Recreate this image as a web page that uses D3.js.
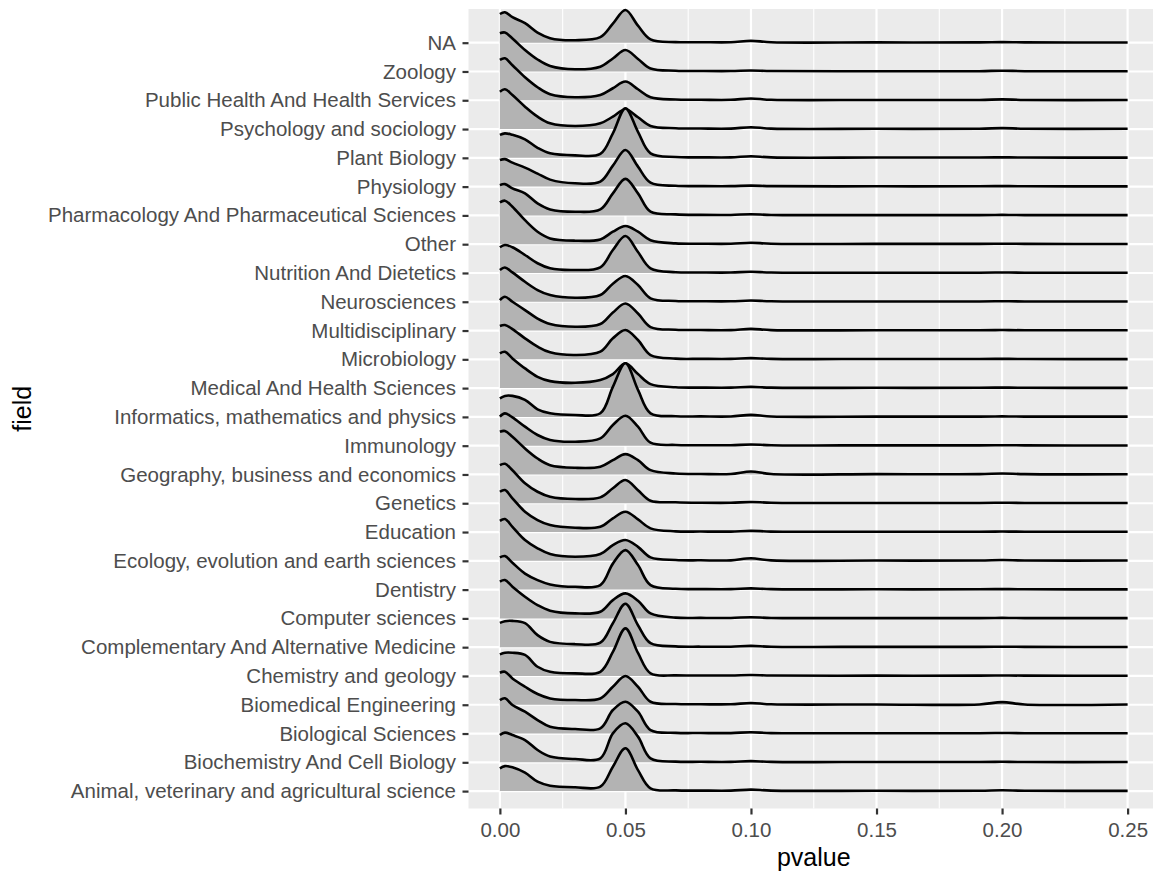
<!DOCTYPE html>
<html>
<head>
<meta charset="utf-8">
<script src="https://cdn.jsdelivr.net/npm/d3@7"></script>
<style>
  body { margin: 0; background: #fff; }
  text { font-family: 'Liberation Sans', Arial, Helvetica, sans-serif; }
</style>
</head>
<body>
<svg width="1153" height="876"></svg>
<script>
// categories, bottom to top (factor order)
let fields = [
  'Animal, veterinary and agricultural science',
  'Biochemistry And Cell Biology',
  'Biological Sciences',
  'Biomedical Engineering',
  'Chemistry and geology',
  'Complementary And Alternative Medicine',
  'Computer sciences',
  'Dentistry',
  'Ecology, evolution and earth sciences',
  'Education',
  'Genetics',
  'Geography, business and economics',
  'Immunology',
  'Informatics, mathematics and physics',
  'Medical And Health Sciences',
  'Microbiology',
  'Multidisciplinary',
  'Neurosciences',
  'Nutrition And Dietetics',
  'Other',
  'Pharmacology And Pharmaceutical Sciences',
  'Physiology',
  'Plant Biology',
  'Psychology and sociology',
  'Public Health And Health Services',
  'Zoology',
  'NA'
]

// estimated density of each field at fixed p-values (same order as fields)
let d000 = [22.8, 27.3, 33.5, 32, 21.6, 24.3, 36.7, 32.2, 40, 40.3, 38.2, 42.7, 29, 18.6, 34.7, 33.3, 30.5, 31.7, 25.7, 41.8, 30.3, 26.6, 22.9, 37.4, 40.3, 38.2, 28.7]
let d002 = [25, 29.7, 35.2, 33, 23.2, 26, 38.3, 33.5, 41.8, 42, 39.5, 43.5, 32.3, 21, 36.3, 34.3, 33.8, 34.3, 28, 43.5, 31.3, 27.5, 24.5, 39.8, 42, 39, 30.5]
let d005 = [23.8, 27.3, 28.5, 26.3, 23.2, 26.3, 31.7, 26.8, 34, 33.7, 33, 37.7, 28.3, 21, 29.7, 30.3, 28.8, 29.4, 25.7, 37.5, 27, 24, 23, 34, 35, 33, 25.5]
let d010 = [18.4, 22.3, 21.8, 18, 21, 24, 21.7, 16, 20.8, 20.3, 20, 26, 19, 17, 19.7, 21, 20.5, 20, 18, 24, 22, 19, 18.5, 22.4, 23, 21.5, 19.5]
let d015 = [9.4, 12.3, 13.5, 10.7, 9.2, 12, 13.3, 9.5, 12.5, 12, 11.5, 16, 10.7, 7.6, 11.3, 12.7, 12, 11.7, 9.7, 12.5, 12, 13, 10, 12.4, 13, 12, 10]
let d020 = [5.4, 5.7, 6.8, 6.3, 4.2, 5.3, 7.7, 5.2, 6.8, 7, 6.5, 9.3, 5.7, 3.6, 7, 7, 6.5, 6.7, 4.7, 5.8, 6, 7, 4.5, 5.8, 6, 5.5, 4.5]
let d030 = [3.8, 3.3, 4.5, 4.7, 2.6, 3, 5, 2.8, 4.1, 4.3, 4.2, 6.7, 4, 1.9, 5.3, 4.3, 3.8, 4, 3, 3.5, 3.7, 3.3, 2.5, 3.1, 3, 2.2, 2.5]
let d040 = [4.4, 4, 5.2, 6.3, 4.2, 4.5, 6.7, 4.5, 6.8, 5.3, 5.9, 7.7, 7.3, 3.6, 8, 7.7, 6.5, 6.7, 5.7, 4.8, 6, 5, 3.9, 5.8, 5.3, 4.8, 5.5]
let d045 = [24.4, 29, 23.5, 18, 24, 24, 18.3, 26, 15.8, 13.7, 15, 14.3, 20.7, 30, 14, 21, 18, 18, 23, 12.5, 22, 21, 24.5, 12.4, 12, 13, 19]
let d050 = [42.8, 39, 31.8, 28.7, 47.6, 43.5, 25, 39.5, 20.8, 20.3, 23.2, 20.3, 30, 53.6, 24.8, 29.3, 27, 25.7, 37, 18.2, 36.5, 36.6, 49.5, 19.8, 18.7, 21.5, 32.7]
let d055 = [21, 25.7, 21.8, 18, 23, 22, 17.7, 24.5, 14, 12.7, 13, 14.3, 19, 27, 14, 19.3, 17, 16.7, 21, 12.5, 22, 20, 26, 11.8, 11, 12.5, 17]
let d060 = [2.8, 4, 3.5, 3, 2.6, 4, 5, 4.5, 3.5, 3.7, 2.5, 4.3, 3, 3.6, 4, 4.3, 3.5, 3.4, 4.7, 4, 3.7, 4, 4.5, 3.1, 3, 3, 3.3]
let d070 = [0.7, 0.7, 0.7, 0.7, 0.6, 0.8, 0.8, 0.8, 0.8, 0.7, 1, 1, 0.7, 0.7, 0.8, 0.7, 0.8, 0.8, 0.8, 0.8, 1, 0.8, 0.8, 0.8, 0.7, 0.8, 0.6]
let d100 = [1.5, 1.2, 1.3, 1.8, 1.0, 1.3, 1.2, 1.2, 2.5, 1.2, 1.3, 3.0, 1.2, 2.0, 1.2, 1.2, 1.7, 1.2, 1.2, 1.5, 1.2, 1.0, 1.6, 1.8, 1.8, 1.0, 2.0]
let d200 = [0.8, 0.5, 0.5, 2.6, 0.5, 0.5, 0.5, 0.5, 0.8, 0.5, 0.5, 1.0, 0.5, 0.5, 0.5, 0.5, 0.5, 0.5, 0.5, 0.5, 0.5, 0.5, 0.5, 0.9, 0.9, 0.8, 0.6]

let headP = [0, 0.002, 0.005, 0.01, 0.015, 0.02, 0.03, 0.04, 0.045, 0.05, 0.055, 0.06, 0.07]
let headD = [d000, d002, d005, d010, d015, d020, d030, d040, d045, d050, d055, d060, d070]

// flat tail shared by all fields
let tailP = [0.08, 0.092, 0.108, 0.15, 0.191, 0.209, 0.25]
let tailD = [0.5, 0.45, 0.45, 0.3, 0.3, 0.3, 0.25]

let xTicks = [0, 0.05, 0.1, 0.15, 0.2, 0.25]
let xMinor = [0.025, 0.075, 0.125, 0.175, 0.225]

let width = 1153
let height = 876
let panel = { left: 468.5, right: 1159, top: 9, bottom: 808.5 }

let svg = d3.select('svg')

let xScale = d3.scaleLinear()
  .domain([-0.0125, 0.2625])
  .range([panel.left, panel.right])

let yScale = d3.scalePoint()
  .domain(fields)
  .range([791.1, 42.7])

let heightScale = d3.scaleLinear()
  .domain([0, 50])
  .range([0, 50])

// panel background + grid
svg.append('rect')
  .attr('x', panel.left)
  .attr('y', panel.top)
  .attr('width', panel.right - panel.left)
  .attr('height', panel.bottom - panel.top)
  .attr('fill', '#EBEBEB')

svg.selectAll('.minor')
  .data(xMinor)
  .enter().append('line')
  .attr('x1', d => xScale(d)).attr('x2', d => xScale(d))
  .attr('y1', panel.top).attr('y2', panel.bottom)
  .attr('stroke', '#fff')
  .attr('stroke-width', 1.1)

svg.selectAll('.vmajor')
  .data(xTicks)
  .enter().append('line')
  .attr('x1', d => xScale(d)).attr('x2', d => xScale(d))
  .attr('y1', panel.top).attr('y2', panel.bottom)
  .attr('stroke', '#fff')
  .attr('stroke-width', 2.2)

svg.selectAll('.hmajor')
  .data(fields)
  .enter().append('line')
  .attr('x1', panel.left).attr('x2', panel.right)
  .attr('y1', d => yScale(d)).attr('y2', d => yScale(d))
  .attr('stroke', '#fff')
  .attr('stroke-width', 2.2)

// ridges, top row first so lower ridges overlay
let ridges = fields.map((f, j) => {
  let pts = headP.map((p, k) => [p, headD[k][j]])
  pts.push([tailP[0], tailD[0]], [tailP[1], tailD[1]])
  pts.push([0.1, d100[j]])
  pts.push([tailP[2], tailD[2]], [tailP[3], tailD[3]], [tailP[4], tailD[4]])
  pts.push([0.2, d200[j]])
  pts.push([tailP[5], tailD[5]], [tailP[6], tailD[6]])
  return { field: f, pts: pts }
}).reverse()

let curve = d3.curveCatmullRom.alpha(0.5)

ridges.forEach(r => {
  let base = yScale(r.field)
  let area = d3.area()
    .x(d => xScale(d[0]))
    .y0(base)
    .y1(d => base - heightScale(d[1]))
    .curve(curve)
  let line = d3.line()
    .x(d => xScale(d[0]))
    .y(d => base - heightScale(d[1]))
    .curve(curve)
  svg.append('path')
    .attr('d', area(r.pts))
    .attr('fill', '#B3B3B3')
  svg.append('path')
    .attr('d', line(r.pts))
    .attr('fill', 'none')
    .attr('stroke', '#000')
    .attr('stroke-width', 2.6)
    .attr('stroke-linejoin', 'round')
})

// axes
let xAxis = d3.axisBottom(xScale)
  .tickValues(xTicks)
  .tickFormat(d3.format('.2f'))
  .tickSize(6)
  .tickPadding(8)

let yAxis = d3.axisLeft(yScale)
  .tickSize(6)
  .tickPadding(6.5)

let gx = svg.append('g')
  .attr('transform', 'translate(' + [0, panel.bottom] + ')')
  .call(xAxis)

let gy = svg.append('g')
  .attr('transform', 'translate(' + [panel.left, 0] + ')')
  .call(yAxis)

;[gx, gy].forEach(g => {
  g.select('.domain').remove()
  g.selectAll('.tick line').attr('stroke', '#333').attr('stroke-width', 2.2)
  g.selectAll('.tick text')
    .attr('fill', '#4D4D4D')
    .style('font-size', '20.5px')
    .style('font-family', "'Liberation Sans', Arial, sans-serif")
})

svg.append('text')
  .attr('x', (panel.left + panel.right) / 2)
  .attr('y', 866)
  .attr('text-anchor', 'middle')
  .style('font-size', '25px')
  .text('pvalue')

svg.append('text')
  .attr('transform', 'translate(31,' + (panel.top + panel.bottom) / 2 + ') rotate(-90)')
  .attr('text-anchor', 'middle')
  .style('font-size', '25px')
  .text('field')
</script>
</body>
</html>
